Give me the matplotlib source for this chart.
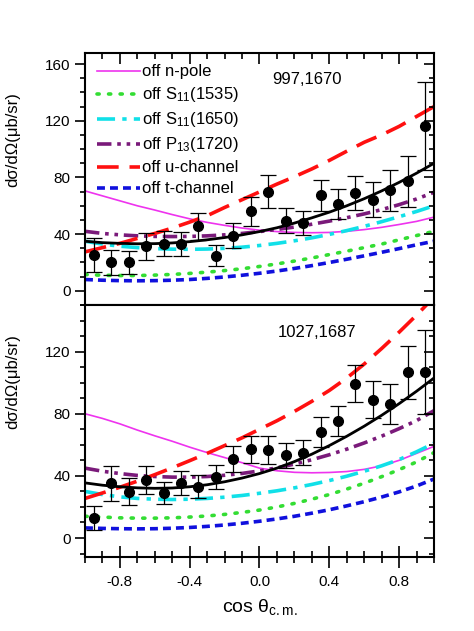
import matplotlib
matplotlib.use('Agg')
import matplotlib.pyplot as plt
from matplotlib.ticker import MultipleLocator, FormatStrFormatter

plt.rcParams['font.family'] = ['Liberation Sans', 'DejaVu Sans']
plt.rcParams['mathtext.fontset'] = 'custom'
plt.rcParams['mathtext.rm'] = 'Liberation Sans'
plt.rcParams['mathtext.it'] = 'Liberation Sans'
plt.rcParams['mathtext.default'] = 'regular'

### data points (cos theta, dsigma/dOmega, error) ##############################

cos_pts = [-0.95, -0.85, -0.75, -0.65, -0.55, -0.45, -0.35, -0.25, -0.15, -0.05,
           0.05, 0.15, 0.25, 0.35, 0.45, 0.55, 0.65, 0.75, 0.85, 0.95]

top_vals = [25.4, 20.0, 20.0, 31.3, 33.2, 33.2, 45.4, 24.7, 38.8, 56.0,
            70.0, 49.4, 47.8, 67.3, 61.2, 69.0, 64.2, 70.8, 77.2, 116.0]
top_errs = [11.8, 8.7, 8.2, 9.2, 8.8, 8.5, 9.8, 7.3, 8.8, 10.3,
            11.4, 8.8, 8.2, 11.2, 10.5, 11.8, 12.3, 14.5, 18.0, 31.0]

bot_vals = [12.8, 35.3, 29.9, 37.4, 28.8, 35.6, 33.1, 39.1, 50.8, 57.0,
            56.6, 53.4, 54.9, 68.3, 75.2, 99.4, 89.1, 86.5, 106.8, 107.0]
bot_errs = [7.5, 11.2, 8.8, 9.2, 7.0, 7.6, 7.3, 7.6, 8.5, 8.9,
            8.8, 8.0, 8.2, 9.6, 9.8, 12.0, 12.0, 12.8, 17.0, 27.0]

### model curves, read every 0.1 in cos theta ##################################

cos_grid = [-1.0, -0.9, -0.8, -0.7, -0.6, -0.5, -0.4, -0.3, -0.2, -0.1, 0.0,
            0.1, 0.2, 0.3, 0.4, 0.5, 0.6, 0.7, 0.8, 0.9, 1.0]

top_full  = [35.0, 34.0, 33.5, 33.2, 33.3, 33.8, 34.7, 36.0, 37.6, 39.5, 41.8,
             44.5, 47.8, 51.5, 55.5, 60.0, 65.0, 70.5, 76.5, 83.0, 90.0]
top_npole = [70.5, 67.0, 63.5, 60.0, 57.0, 53.8, 50.8, 48.3, 46.2, 44.3, 42.8,
             41.8, 41.2, 41.0, 41.2, 42.0, 43.2, 44.8, 46.8, 49.0, 52.0]
top_s1535 = [11.5, 11.0, 10.8, 10.8, 11.1, 11.6, 12.3, 13.2, 14.3, 15.6, 17.2,
             19.0, 21.0, 23.2, 25.6, 28.0, 30.5, 33.0, 36.0, 39.0, 42.0]
top_s1650 = [35.0, 33.0, 31.5, 30.5, 29.8, 29.4, 29.3, 29.5, 30.0, 30.8, 32.0,
             33.5, 35.3, 37.4, 39.8, 42.5, 45.5, 48.8, 52.3, 56.0, 60.0]
top_p1720 = [42.0, 40.5, 39.5, 38.8, 38.4, 38.3, 38.4, 38.8, 39.5, 40.5, 41.8,
             43.3, 45.0, 47.0, 49.2, 51.6, 54.3, 57.3, 60.8, 64.8, 69.5]
top_uchan = [27.5, 30.5, 33.5, 37.0, 40.5, 44.3, 48.5, 53.0, 58.8, 64.3, 69.8,
             75.3, 80.5, 86.0, 92.0, 98.5, 104.8, 110.0, 116.0, 123.0, 130.0]
top_tchan = [8.0, 7.5, 7.2, 7.1, 7.2, 7.5, 8.0, 8.8, 9.8, 11.0, 12.4,
             14.0, 15.8, 17.8, 20.0, 22.3, 24.7, 27.2, 29.8, 32.5, 35.0]

bot_full  = [35.5, 34.0, 33.0, 32.3, 32.0, 32.2, 33.0, 34.3, 36.2, 38.6, 41.5,
             45.0, 49.2, 54.0, 59.5, 65.5, 72.0, 79.0, 86.5, 94.5, 103.0]
bot_npole = [80.0, 77.0, 73.5, 69.5, 65.8, 62.3, 58.5, 55.0, 51.8, 48.5, 45.0,
             43.3, 42.3, 42.0, 42.2, 42.8, 44.2, 46.5, 50.0, 54.5, 59.0]
bot_s1535 = [14.0, 13.5, 13.0, 12.8, 12.8, 13.0, 13.5, 14.2, 15.2, 16.5, 18.0,
             20.0, 22.3, 25.0, 28.0, 31.5, 35.3, 39.5, 44.0, 49.0, 55.0]
bot_s1650 = [30.0, 28.0, 26.5, 25.5, 25.0, 24.8, 25.0, 25.5, 26.3, 27.4, 28.8,
             30.4, 32.3, 34.5, 37.0, 39.8, 43.0, 46.5, 50.5, 55.5, 61.0]
bot_p1720 = [45.0, 43.0, 41.5, 40.3, 39.6, 39.2, 39.2, 39.6, 40.4, 41.6, 43.2,
             45.2, 47.6, 50.4, 53.6, 57.2, 61.2, 65.6, 70.4, 75.6, 82.0]
bot_uchan = [25.5, 29.0, 32.7, 36.6, 40.8, 45.2, 49.8, 54.5, 59.5, 64.5, 70.0,
             75.5, 81.5, 88.0, 95.0, 103.0, 112.0, 122.0, 132.5, 143.5, 155.0]
bot_tchan = [6.5, 6.2, 6.0, 5.9, 6.0, 6.3, 6.8, 7.5, 8.4, 9.5, 10.8,
             12.3, 14.0, 16.0, 18.2, 20.7, 23.4, 26.4, 29.7, 33.5, 38.0]

legend_labels = ['off n-pole', 'off S$_{11}$(1535)', 'off S$_{11}$(1650)',
                 'off P$_{13}$(1720)', 'off u-channel', 'off t-channel']
energies = ['997,1670', '1027,1687']

### figure #####################################################################

fig = plt.figure(figsize=(4.74, 6.31), dpi=100)
ax1 = fig.add_axes([0.1793, 0.5166, 0.7363, 0.3999])
ax2 = fig.add_axes([0.1793, 0.1178, 0.7363, 0.3988])

styles = [dict(color='#ee33ee', lw=1.2, ls='-'),
          dict(color='#33dd33', lw=2.6, ls=(0, (0.6, 2.6)), dash_capstyle='round'),
          dict(color='#11e0e8', lw=2.6, ls=(0, (5, 2, 1.2, 2))),
          dict(color='#7a1a7a', lw=2.6, ls=(0, (4, 1.6, 1, 1.6, 1, 1.6))),
          dict(color='#ff1010', lw=2.6, ls=(0, (6, 3))),
          dict(color='#1010dd', lw=2.6, ls=(0, (2.2, 1.4)))]

panels = [(ax1, top_vals, top_errs,
           [top_npole, top_s1535, top_s1650, top_p1720, top_uchan, top_tchan], top_full, (-10, 168)),
          (ax2, bot_vals, bot_errs,
           [bot_npole, bot_s1535, bot_s1650, bot_p1720, bot_uchan, bot_tchan], bot_full, (-12, 150))]

for i, (ax, vals, errs, curves, full, ylim) in enumerate(panels):
    for c, st, lab in zip(curves, styles, legend_labels):
        ax.plot(cos_grid, c, label=lab, **st)
    ax.plot(cos_grid, full, color='black', lw=2.0)
    ax.errorbar(cos_pts, vals, yerr=errs, fmt='o', color='black', ms=7,
                elinewidth=0.9, capsize=6, capthick=0.9)

    ax.set_xlim(-1.0, 1.0)
    ax.set_ylim(*ylim)
    ax.xaxis.set_major_locator(MultipleLocator(0.4))
    ax.xaxis.set_minor_locator(MultipleLocator(0.1))
    ax.yaxis.set_major_locator(MultipleLocator(40))
    ax.yaxis.set_minor_locator(MultipleLocator(10))
    for sp in ax.spines.values():
        sp.set_linewidth(1.5)

    ax.tick_params(axis='y', which='both', direction='out', labelsize=11, width=1.2)
    ax.tick_params(axis='y', which='major', length=7)
    ax.tick_params(axis='y', which='minor', length=3.5)
    ax.set_ylabel('dσ/dΩ(μb/sr)', fontsize=12)

    ax.text(0.636 if i == 0 else 0.665, 0.892, energies[i], transform=ax.transAxes,
            fontsize=12, ha='center', va='center')

    # top spine: inward ticks only
    ax.tick_params(axis='x', which='both', bottom=False, top=True, direction='in',
                   labelbottom=False, width=1.2)
    ax.tick_params(axis='x', which='major', length=8)
    ax.tick_params(axis='x', which='minor', length=4)

    # right spine ticks point inward; drawn as a twin so left can stay outward
    axr = ax.twinx()
    axr.set_ylim(ax.get_ylim())
    axr.yaxis.set_major_locator(MultipleLocator(40))
    axr.yaxis.set_minor_locator(MultipleLocator(10))
    axr.tick_params(axis='y', which='both', direction='in', labelright=False, width=1.2)
    axr.tick_params(axis='y', which='major', length=7)
    axr.tick_params(axis='y', which='minor', length=3.5)
    for sp in axr.spines.values():
        sp.set_visible(False)

# outward bottom ticks on the lower panel
axb = ax2.twiny()
axb.set_xlim(ax2.get_xlim())
axb.xaxis.set_ticks_position('bottom')
axb.xaxis.set_label_position('bottom')
axb.xaxis.set_major_locator(MultipleLocator(0.4))
axb.xaxis.set_minor_locator(MultipleLocator(0.1))
axb.xaxis.set_major_formatter(FormatStrFormatter('%.1f'))
axb.tick_params(axis='x', which='both', direction='out', labelsize=11, width=1.2, pad=5)
axb.tick_params(axis='x', which='major', length=8)
axb.tick_params(axis='x', which='minor', length=4.5)
for sp in axb.spines.values():
    sp.set_visible(False)
axb.set_xlabel(r'cos $\theta_{c.m.}$', fontsize=14, labelpad=6)

ax1.yaxis.set_label_coords(-0.186, 0.654)
ax2.yaxis.set_label_coords(-0.186, 0.694)

ax1.legend(loc='upper left', frameon=False, fontsize=12, handlelength=2.6,
           handletextpad=0.12, labelspacing=0.36, borderaxespad=0.3,
           bbox_to_anchor=(0.0, 1.0))

fig.savefig('out.png', dpi=100)
